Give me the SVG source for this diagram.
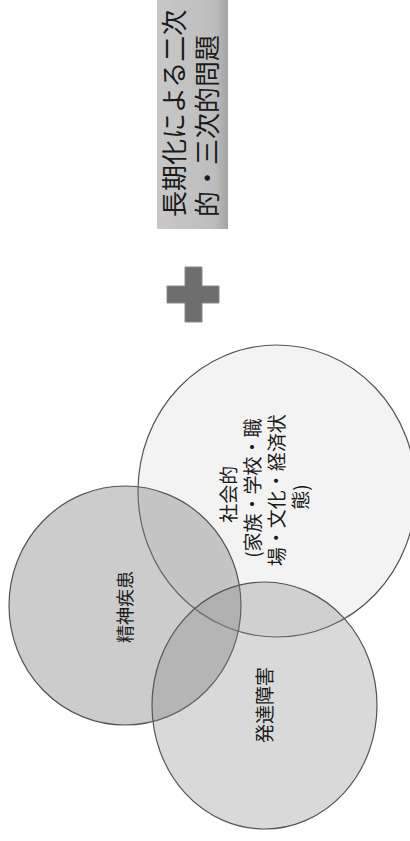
<svg xmlns="http://www.w3.org/2000/svg" width="410" height="841" viewBox="0 0 410 841">
<defs>
<linearGradient id="boxGrad" x1="0" y1="0" x2="1" y2="0">
<stop offset="0" stop-color="#c8c8c8"/>
<stop offset="0.8" stop-color="#bdbdbd"/>
<stop offset="1" stop-color="#a4a4a4"/>
</linearGradient>
</defs>
<style>
.lbl{font-family:"Noto Sans CJK JP","Noto Sans CJK SC",sans-serif;fill:#1a1a1a;}
.circ{stroke:#555555;stroke-width:1.2;}
</style>
<rect width="410" height="841" fill="#ffffff"/>
<g id="problem">
<rect x="157" y="-2" width="71" height="231" fill="url(#boxGrad)"/>
<text class="lbl" font-size="26" transform="translate(0,0) rotate(-90)" dominant-baseline="central">
<tspan x="-217" y="172">長期化による二次</tspan>
<tspan x="-217" y="205">的・三次的問題</tspan>
</text>
</g>
<g id="plus">
<path d="M185,267 H202 V286 H219 V303 H202 V322 H185 V303 H167 V286 H185 Z" fill="#6e6e6e" stroke="#8a8a8a" stroke-width="1"/>
</g>
<g id="social">
<ellipse class="circ" cx="277" cy="491" rx="139" ry="146" fill="#f3f3f3"/>
</g>
<g id="mental">
<ellipse class="circ" cx="125" cy="605.5" rx="116" ry="119.5" fill="#808080" fill-opacity="0.4"/>
</g>
<g id="dev">
<ellipse class="circ" cx="264.5" cy="705.5" rx="112.5" ry="123.5" fill="#808080" fill-opacity="0.3"/>
</g>
<g id="social-label">
<text class="lbl" font-size="19" text-anchor="middle" dominant-baseline="central" transform="translate(0,0) rotate(-90)">
<tspan x="-492" y="227">社会的</tspan>
<tspan x="-486" y="251">(家族・学校・職</tspan>
<tspan x="-488" y="275">場・文化・経済状</tspan>
<tspan x="-497" y="299">態)</tspan>
</text>
</g>
<g id="mental-label">
<text class="lbl" font-size="18" text-anchor="middle" dominant-baseline="central" transform="translate(124,607) rotate(-90)">精神疾患</text>
</g>
<g id="dev-label">
<text class="lbl" font-size="19" text-anchor="middle" dominant-baseline="central" transform="translate(263,705) rotate(-90)">発達障害</text>
</g>
<g id="connectors"/>
</svg>
